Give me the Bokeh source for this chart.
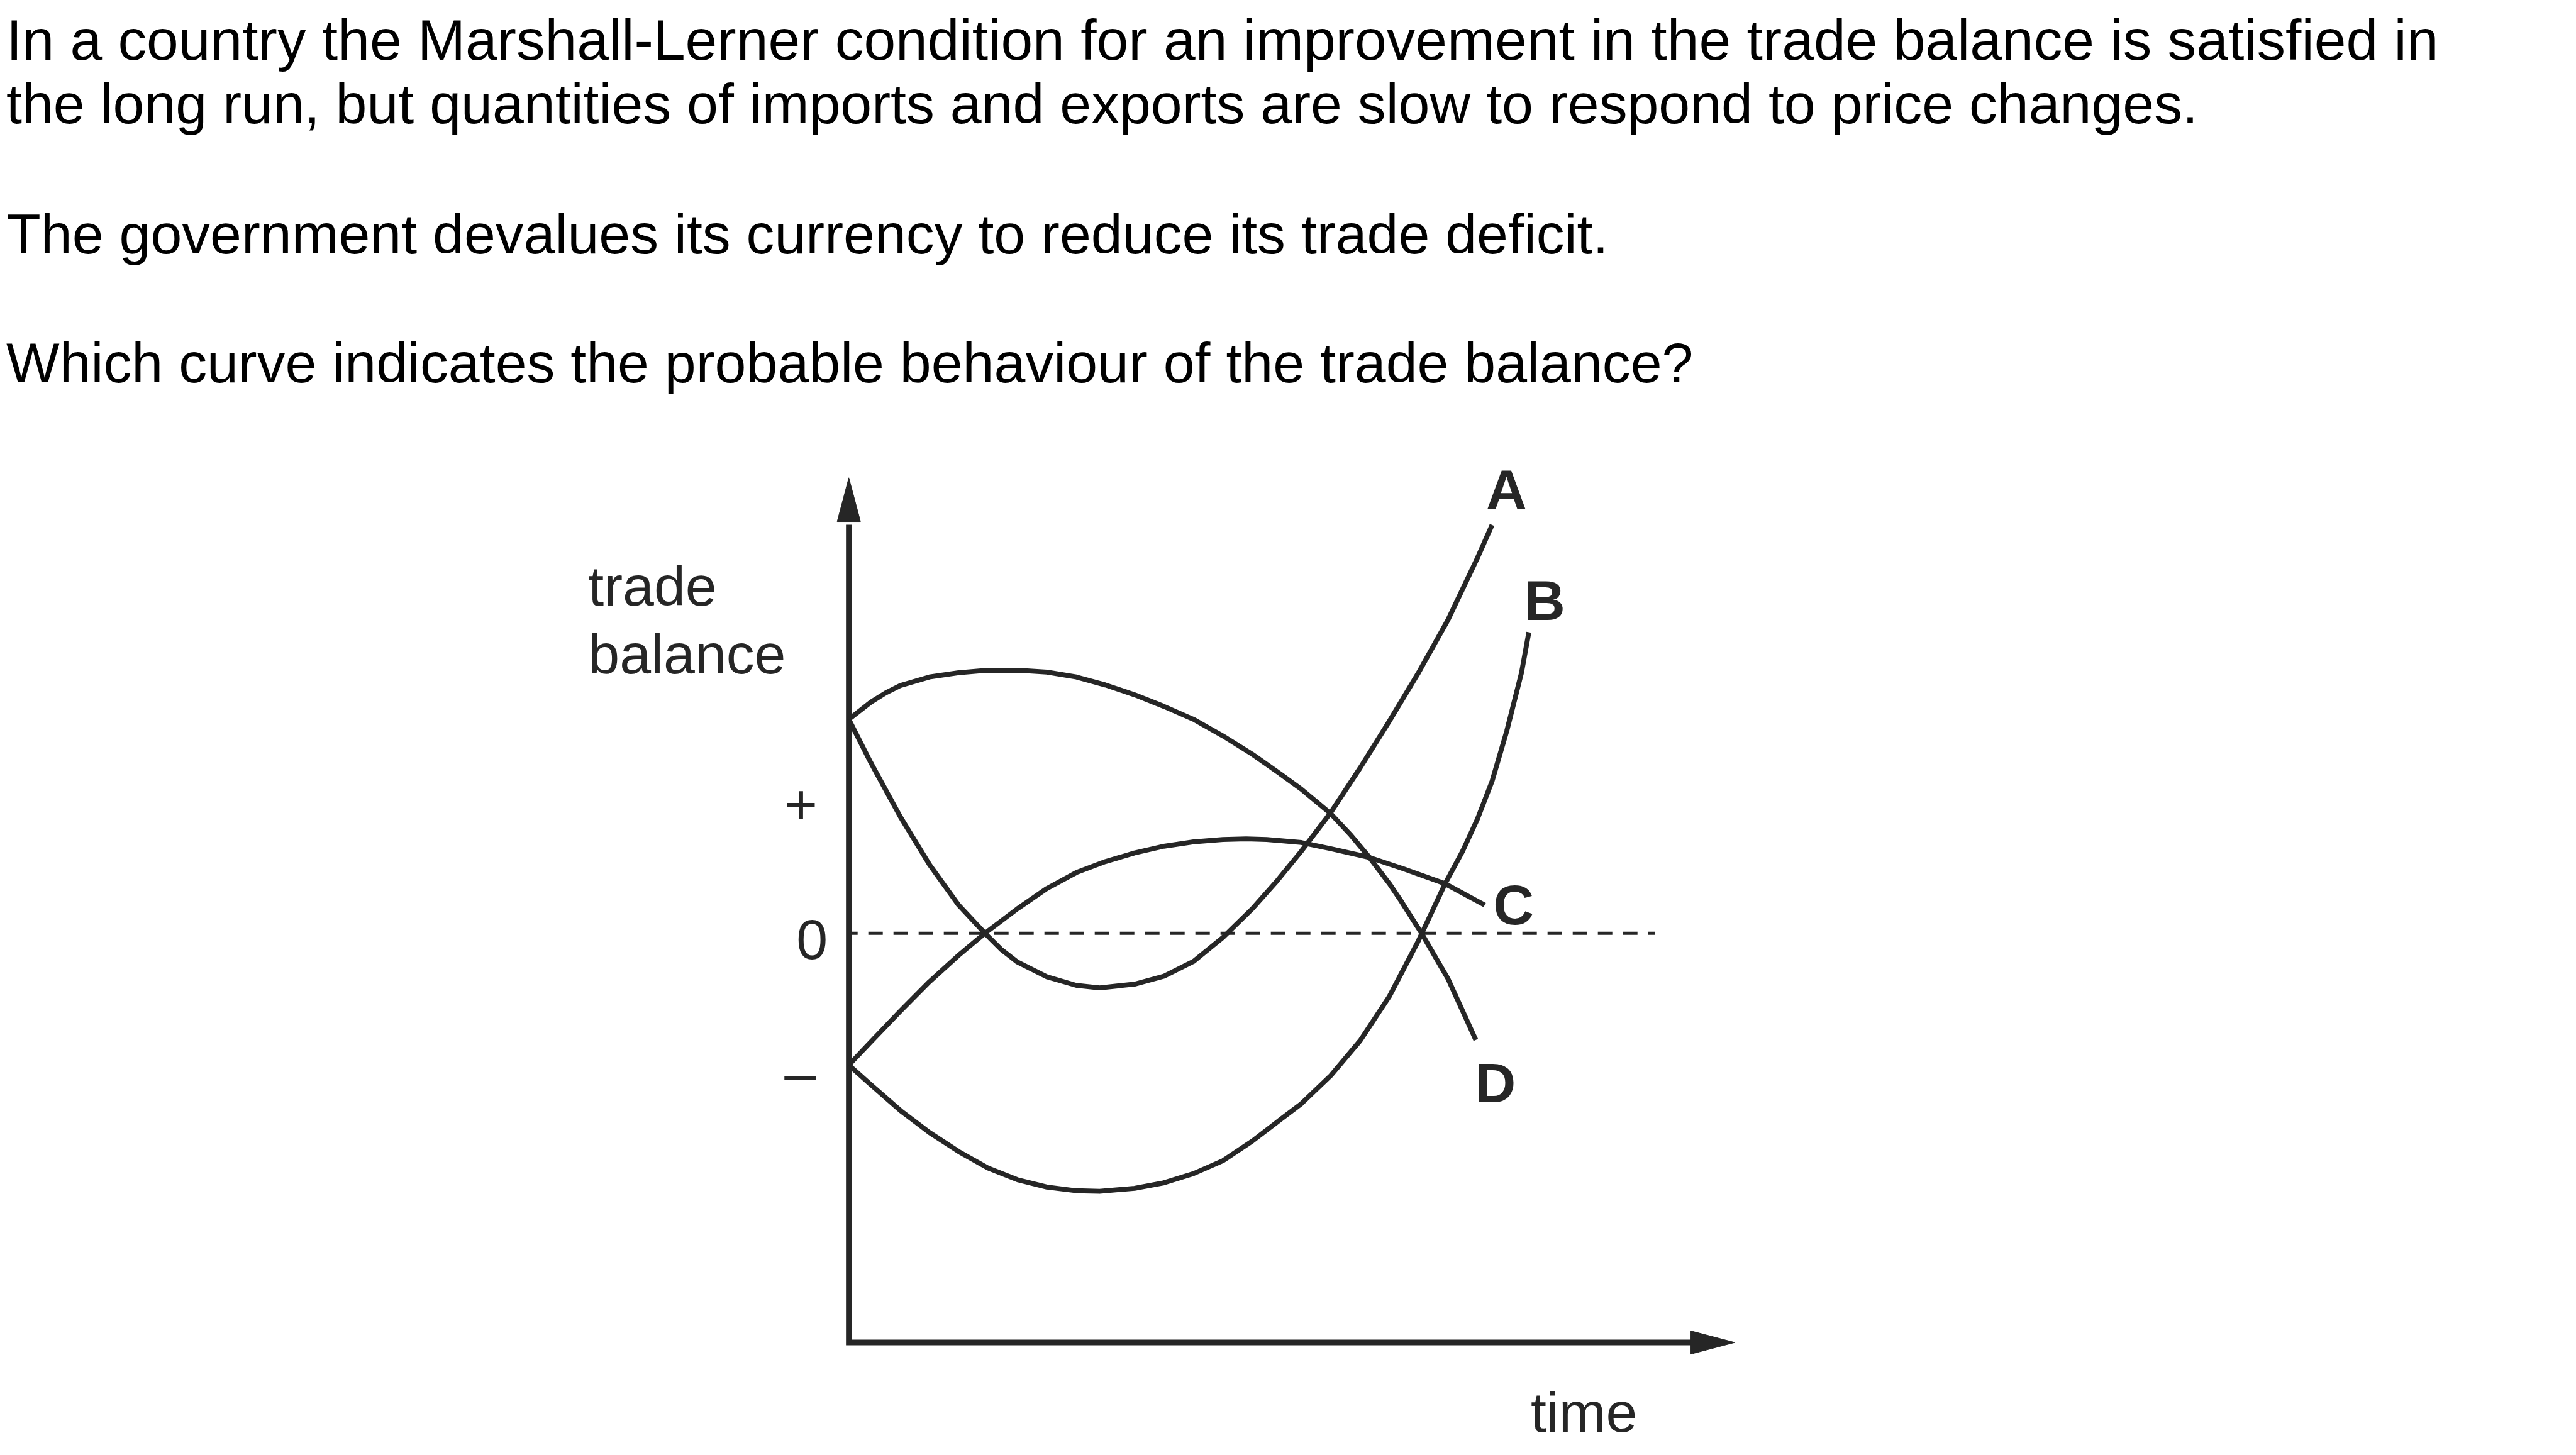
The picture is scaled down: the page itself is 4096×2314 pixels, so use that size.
from bokeh.plotting import figure
from bokeh.models import Range1d, Label, ColumnDataSource
from bokeh.core.properties import value
from bokeh.embed import file_html
from bokeh.resources import INLINE

# ---------------- data ----------------
question_lines = [
    "In a country the Marshall-Lerner condition for an improvement in the trade balance is satisfied in",
    "the long run, but quantities of imports and exports are slow to respond to price changes.",
    "The government devalues its currency to reduce its trade deficit.",
    "Which curve indicates the probable behaviour of the trade balance?",
]
y_title_lines = ["trade", "balance"]
x_title = "time"
tick_labels = ["+", "0", "\u2013"]

curve_names = ["A", "B", "C", "D"]

time_A = [0.00, 0.36, 0.84, 1.315, 1.79, 2.22, 2.48, 2.75, 3.23, 3.71, 4.09, 4.66, 5.14, 5.62,
          6.10, 6.58, 6.98, 7.38, 7.86, 8.34, 8.815, 9.29, 9.77, 10.25, 10.49]
balance_A = [3.49, 2.78, 1.90, 1.12, 0.46, 0.00, -0.26, -0.47, -0.71, -0.85, -0.89, -0.83, -0.70,
             -0.46, -0.07, 0.40, 0.85, 1.34, 1.97, 2.70, 3.46, 4.25, 5.11, 6.12, 6.66]

time_B = [0.00, 0.36, 0.84, 1.315, 1.79, 2.27, 2.75, 3.23, 3.71, 4.09, 4.66, 5.14, 5.62, 6.10,
          6.58, 7.05, 7.38, 7.86, 8.34, 8.815, 9.29, 9.72, 10.01, 10.25, 10.49, 10.73, 10.97, 11.09]
balance_B = [-2.15, -2.47, -2.89, -3.25, -3.56, -3.83, -4.02, -4.14, -4.20, -4.21, -4.16, -4.07,
             -3.92, -3.71, -3.39, -3.03, -2.78, -2.32, -1.75, -1.03, -0.12, 0.80, 1.34, 1.86,
             2.48, 3.30, 4.25, 4.91]

time_C = [0.00, 0.36, 0.84, 1.315, 1.79, 2.22, 2.75, 3.23, 3.71, 4.185, 4.66, 5.14, 5.62, 6.10,
          6.48, 6.815, 7.38, 7.86, 8.48, 9.05, 9.72, 10.37]
balance_C = [-2.15, -1.77, -1.27, -0.79, -0.36, 0.00, 0.40, 0.73, 0.99, 1.17, 1.31, 1.42, 1.49,
             1.53, 1.54, 1.53, 1.48, 1.38, 1.24, 1.05, 0.81, 0.46]

time_D = [0.00, 0.36, 0.60, 0.84, 1.315, 1.79, 2.27, 2.75, 3.23, 3.71, 4.185, 4.66, 5.14, 5.62,
          6.10, 6.58, 7.05, 7.38, 7.86, 8.17, 8.48, 8.815, 9.01, 9.34, 9.77, 10.225]
balance_D = [3.49, 3.77, 3.92, 4.04, 4.18, 4.25, 4.29, 4.29, 4.26, 4.18, 4.05, 3.89, 3.70, 3.49,
             3.22, 2.92, 2.59, 2.35, 1.95, 1.62, 1.25, 0.81, 0.52, 0.00, -0.74, -1.74]

# ---------------- layout / style ----------------
S = 0.975                 # drawing scale vs reference
W, H = 4080, 2298         # figure size (window minus 8px margins)
UNIT = 100.0              # reference px per data unit
X0_PX, Y0_PX = 1392.0, 1530.0   # reference px of (time=0, balance=0)
TEXT_DY = 24.0            # baseline correction (reference px)

def sx_to_t(sx):
    return ((sx + 8) / S - X0_PX) / UNIT

def sy_to_b(sy):
    return (Y0_PX - (sy + 8) / S) / UNIT

def px_t(px):
    return (px - X0_PX) / UNIT

def py_b(py):
    return (Y0_PX - py) / UNIT

def base_b(py):
    return py_b(py - TEXT_DY)

INK = "#262626"
FONT = "Liberation Sans"
FSIZE = "%.1fpx" % (92 * S)
Q_SIZES = ["%.1fpx" % (93.5 * S)] + ["%.1fpx" % (92 * S)] * 3

p = figure(width=W, height=H,
           x_range=Range1d(sx_to_t(0), sx_to_t(W)),
           y_range=Range1d(sy_to_b(H), sy_to_b(0)),
           x_axis_type=None, y_axis_type=None,
           toolbar_location=None, output_backend="svg",
           min_border=0, outline_line_color=None,
           background_fill_color="white", border_fill_color="white")

# zero line (dashed)
p.line(x=[0, px_t(2707)], y=[0, 0], line_color=INK, line_width=5 * S,
       line_dash="23 17", line_dash_offset=9)

# axes
x_axis_b = py_b(2197.5)
y_tip, y_base = py_b(787), py_b(858.5)
x_tip, x_base = px_t(2837), px_t(2765)
half = 19 / UNIT
p.line(x=[0, 0, x_base + 0.05], y=[y_base - 0.05, x_axis_b, x_axis_b],
       line_color=INK, line_width=9.3 * S, line_join="miter")
p.patches(xs=[[-half, half, 0], [x_base, x_base, x_tip]],
          ys=[[y_base, y_base, y_tip], [x_axis_b - half, x_axis_b + half, x_axis_b]],
          fill_color=INK, line_color=INK, line_width=1)

# curves
curves = {"A": (time_A, balance_A), "B": (time_B, balance_B),
          "C": (time_C, balance_C), "D": (time_D, balance_D)}
for name in curve_names:
    t, b = curves[name]
    p.line(x=t, y=b, line_color=INK, line_width=8 * S, line_join="round")

# curve labels
lab_src = ColumnDataSource(dict(
    x=[px_t(2464.5), px_t(2527), px_t(2476), px_t(2446.5)],
    y=[base_b(831), base_b(1011), base_b(1508), base_b(1798)],
    text=curve_names))
p.text(x="x", y="y", text="text", source=lab_src, text_font=value(FONT),
       text_font_size=value(FSIZE), text_font_style="bold", text_align="center",
       text_baseline="alphabetic", text_color=INK)

# tick labels
tick_src = ColumnDataSource(dict(
    x=[px_t(1314), px_t(1332), px_t(1312.5)],
    y=[base_b(1343.5), base_b(1564), base_b(1781)],
    text=tick_labels))
p.text(x="x", y="y", text="text", source=tick_src, text_font=value(FONT),
       text_font_size=value(FSIZE), text_align="center",
       text_baseline="alphabetic", text_color=INK)

# axis titles
for txt, py in zip(y_title_lines, [988, 1098]):
    p.add_layout(Label(x=px_t(967), y=base_b(py), text=txt, text_font=FONT,
                       text_font_size=FSIZE, text_align="left",
                       text_baseline="alphabetic", text_color=INK))
p.add_layout(Label(x=px_t(2504), y=base_b(2335), text=x_title, text_font=FONT,
                   text_font_size=FSIZE, text_align="left",
                   text_baseline="alphabetic", text_color=INK))

# question text
for txt, py, fs in zip(question_lines, [96, 201, 413, 623], Q_SIZES):
    p.add_layout(Label(x=px_t(18), y=base_b(py), text=txt, text_font=FONT,
                       text_font_size=fs, text_align="left",
                       text_baseline="alphabetic", text_color="black"))

open("out.html", "w").write(file_html(p, INLINE))
